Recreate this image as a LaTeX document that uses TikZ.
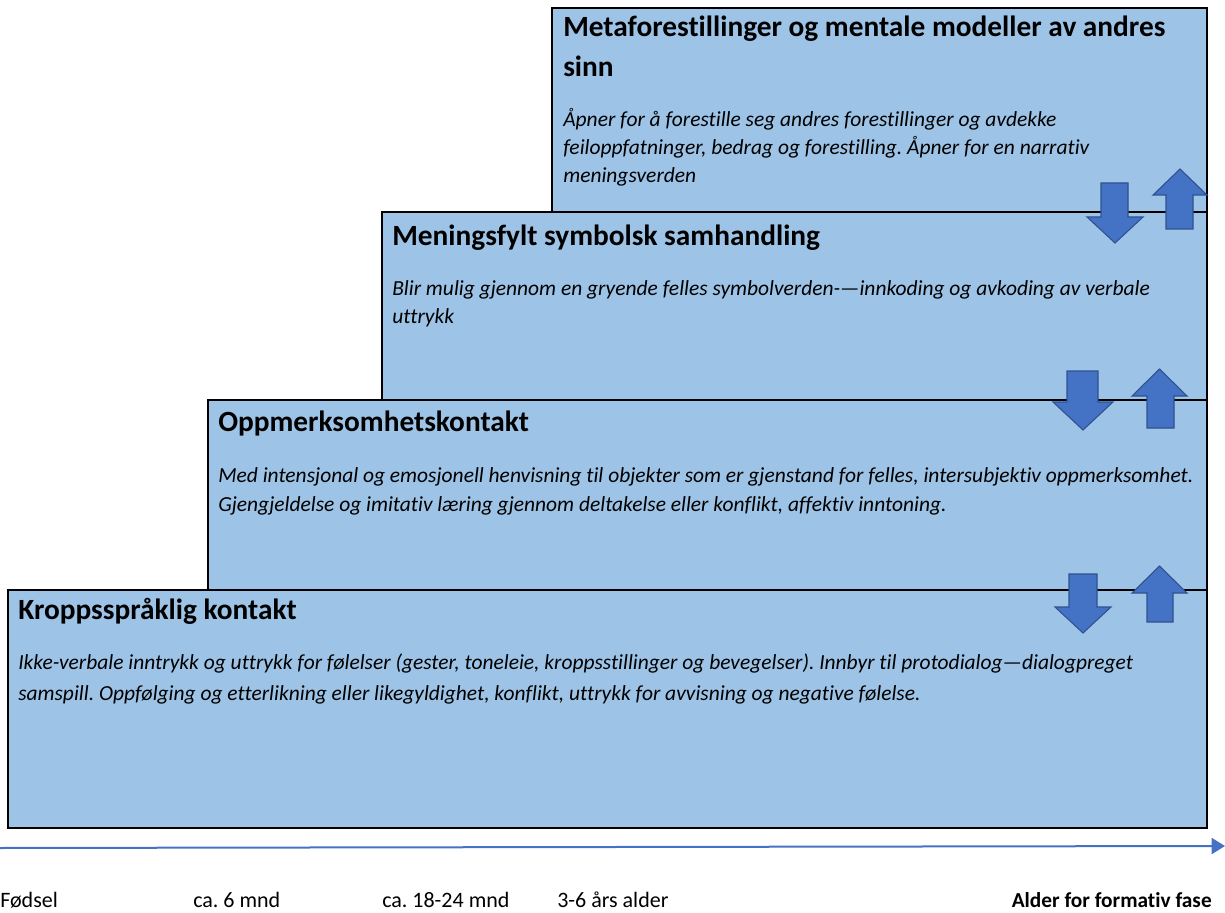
\documentclass[tikz,border=0pt]{standalone}
\usepackage{fontspec}
\setmainfont{Carlito}[Ligatures=NoCommon]
\usetikzlibrary{arrows.meta}
\definecolor{boxfill}{HTML}{9DC3E6}
\definecolor{arrowfill}{HTML}{4472C4}
\definecolor{arrowline}{HTML}{2F528F}
\frenchspacing

% block arrows: shaft x1,x2 / head x1,x2 / shaft end y / head base y / tip y
\newcommand{\blockarrow}[7]{%
  \draw[updown] (#1,#5) -- (#2,#5) -- (#2,#6) -- (#4,#6)
    -- ({(#3+#4)/2},#7) -- (#3,#6) -- (#1,#6) -- cycle;}

\begin{document}
\begin{tikzpicture}[x=0.75pt,y=-0.75pt,
  title/.style={anchor=base west, inner sep=0pt, font=\fontsize{22}{26}\selectfont\bfseries},
  body/.style={anchor=base west, inner sep=0pt, font=\fontsize{16.1}{19}\selectfont\itshape},
  age/.style={anchor=base west, inner sep=0pt, font=\fontsize{16.5}{19}\selectfont},
  updown/.style={fill=arrowfill, draw=arrowline, line width=0.8pt, line join=miter},
  frame/.style={line width=1.8pt, line join=miter},
  divider/.style={line width=0.8pt}]
\useasboundingbox (0,0) rectangle (1225,913);

% stair of four stage boxes
\fill[boxfill] (552,8) rectangle (1207,212);
\fill[boxfill] (382,212) rectangle (1207,400);
\fill[boxfill] (208,400) rectangle (1207,590);
\fill[boxfill] (8,590) rectangle (1207,828);
\draw[frame] (8,828) -- (8,590) -- (208,590) -- (208,400) -- (382,400)
  -- (382,212) -- (552,212) -- (552,8) -- (1207,8) -- (1207,828) -- cycle;
\draw[divider] (552,212) -- (1207,212);
\draw[divider] (382,400) -- (1207,400);
\draw[divider, line width=1.2pt] (208,590) -- (1207,590);

% stage 4
\node[title] (t4a) at (563,37) {Metaforestillinger og mentale modeller av andres};
\node[title] (t4b) at (563,77) {sinn};
\node[body] (b4a) at (563,127) {Åpner for å forestille seg andres forestillinger og avdekke};
\node[body] (b4b) at (563,155) {feiloppfatninger, bedrag og forestilling. Åpner for en narrativ};
\node[body] (b4c) at (563,183) {meningsverden};

% stage 3
\node[title] (t3) at (392,245) {Meningsfylt symbolsk samhandling};
\node[body] (b3a) at (392,295) {Blir mulig gjennom en gryende felles symbolverden-—innkoding og avkoding av verbale};
\node[body] (b3b) at (392,323) {uttrykk};

% stage 2
\node[title] (t2) at (218,431) {Oppmerksomhetskontakt};
\node[body] (b2a) at (218,482) {Med intensjonal og emosjonell henvisning til objekter som er gjenstand for felles, intersubjektiv oppmerksomhet.};
\node[body] (b2b) at (218,511) {Gjengjeldelse og imitativ læring gjennom deltakelse eller konflikt, affektiv inntoning.};

% stage 1
\node[title] (t1) at (18,619) {Kroppsspråklig kontakt};
\node[body] (b1a) at (18,669) {Ikke-verbale inntrykk og uttrykk for følelser (gester, toneleie, kroppsstillinger og bevegelser). Innbyr til protodialog—dialogpreget};
\node[body] (b1b) at (18,700) {samspill. Oppfølging og etterlikning eller likegyldighet, konflikt, uttrykk for avvisning og negative følelse.};

% transitions between stages: down and up
\blockarrow{1101}{1128}{1087}{1143}{183}{217}{243}
\blockarrow{1166}{1193}{1153}{1207}{229}{195}{169}
\blockarrow{1067}{1098}{1053}{1113}{371}{402}{430}
\blockarrow{1147}{1174}{1132}{1187}{428}{396}{369}
\blockarrow{1069}{1097}{1055}{1111}{574}{607}{633}
\blockarrow{1147}{1173}{1132}{1187}{622}{593}{566}

% time axis
\coordinate (axisstart) at (0,848);
\coordinate (axisend) at (1225,846);
\draw[arrowfill, line width=1.5pt, -{Triangle[length=10pt, width=12pt]}] (axisstart) -- (axisend);

\node[age] (a0) at (0,907) {Fødsel};
\node[age] (a1) at (193,907) {ca. 6 mnd};
\node[age] (a2) at (382,907) {ca. 18-24 mnd};
\node[age] (a3) at (557,907) {3-6 års alder};
\node[age, anchor=base east, font=\fontsize{16}{19}\selectfont\bfseries] (a4) at (1212,907) {Alder for formativ fase};
\end{tikzpicture}
\end{document}
